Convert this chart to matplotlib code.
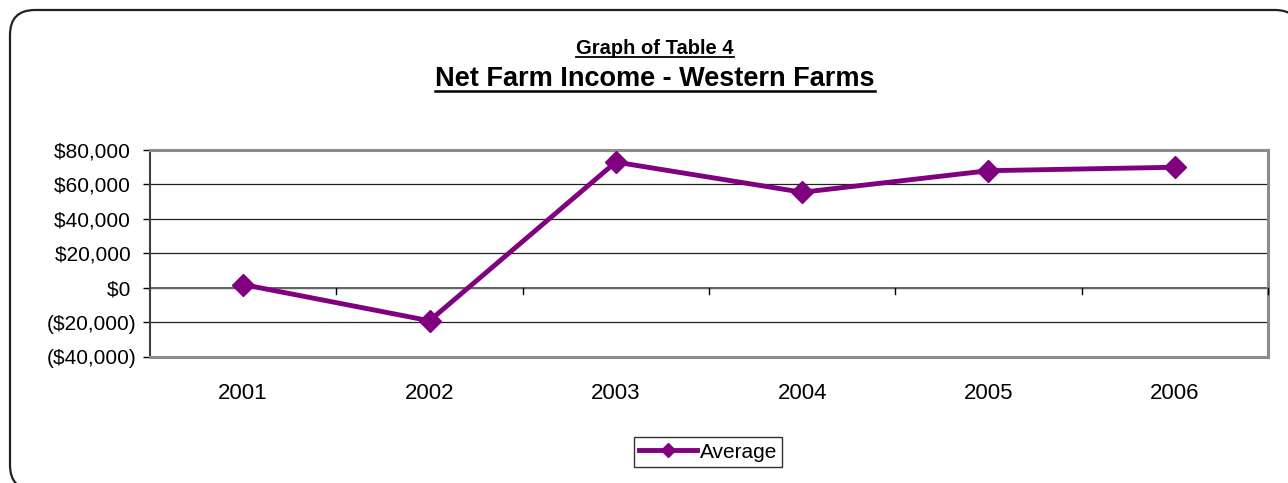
import matplotlib.pyplot as plt
from matplotlib.patches import FancyBboxPatch
from matplotlib.lines import Line2D
from matplotlib.ticker import FuncFormatter, FixedLocator

plt.rcParams['font.family'] = ['Liberation Sans', 'DejaVu Sans']

years = ["2001", "2002", "2003", "2004", "2005", "2006"]
average = [2000, -19000, 73000, 55500, 68000, 70000]
y_ticks = [-40000, -20000, 0, 20000, 40000, 60000, 80000]

W, H = 1288, 483
fig = plt.figure(figsize=(W / 100, H / 100), dpi=100)

# background axes in pixel coordinates for the rounded outer frame
bg = fig.add_axes([0, 0, 1, 1], zorder=-5)
bg.set_xlim(0, W)
bg.set_ylim(H, 0)
bg.axis("off")
bg.add_patch(FancyBboxPatch((10, 10), 1290, 480, boxstyle="round,pad=0,rounding_size=25",
                            fc="white", ec="#222222", lw=1.6))


def money(v, p):
    if v == 0:
        return "$0 "
    if v < 0:
        return "(${:,.0f})".format(-v)
    return "${:,.0f} ".format(v)


ax = fig.add_axes([150 / W, 1 - 357 / H, 1118 / W, 207 / H])
x = list(range(len(years)))
ax.plot(x, average, color="#800080", lw=3.5, marker="D", markersize=11,
        label="Average", zorder=5, clip_on=False)

ax.set_xlim(-0.5, len(years) - 0.5)
ax.set_ylim(y_ticks[0], y_ticks[-1])
ax.yaxis.set_major_locator(FixedLocator(y_ticks))
ax.yaxis.set_major_formatter(FuncFormatter(money))
ax.tick_params(axis="y", direction="out", length=5, width=1, labelsize=15, pad=5)
ax.grid(axis="y", color="#222222", lw=0.9)
ax.set_axisbelow(True)

# x axis crosses at zero with tick marks on category boundaries
ax.set_xticks([])
ax.axhline(0, color="#666666", lw=1.5, zorder=2)
for b in [i + 0.5 for i in x]:
    ax.plot([b, b], [0, -3500], color="black", lw=1, clip_on=False, zorder=3)
for i, yr in enumerate(years):
    ax.text(i, -61000, yr, ha="center", va="center", fontsize=16)

for s in ["top", "right", "bottom"]:
    ax.spines[s].set_color("#8c8c8c")
    ax.spines[s].set_linewidth(2.2)
ax.spines["left"].set_color("#404040")
ax.spines["left"].set_linewidth(1.5)

# titles with underline
t1 = fig.text(655 / W, 1 - 48 / H, "Graph of Table 4", ha="center", va="center",
              fontsize=14.5, fontweight="bold")
t2 = fig.text(655 / W, 1 - 79 / H, "Net Farm Income - Western Farms", ha="center",
              va="center", fontsize=19.5, fontweight="bold")
fig.canvas.draw()
r = fig.canvas.get_renderer()
for t, lw in [(t1, 1.3), (t2, 1.8)]:
    bb = t.get_window_extent(r)
    yy = (bb.y0 + 1) / H
    fig.add_artist(Line2D([bb.x0 / W, bb.x1 / W], [yy, yy], transform=fig.transFigure,
                          color="black", lw=lw))

leg = fig.legend(loc="center", bbox_to_anchor=(708 / W, 1 - 452 / H), fontsize=15,
                 frameon=True, fancybox=False, edgecolor="black", handlelength=2.8,
                 handletextpad=0.1, borderpad=0.25, borderaxespad=0, markerscale=0.65)
leg.get_frame().set_linewidth(1)

fig.savefig("out.png", dpi=100)
